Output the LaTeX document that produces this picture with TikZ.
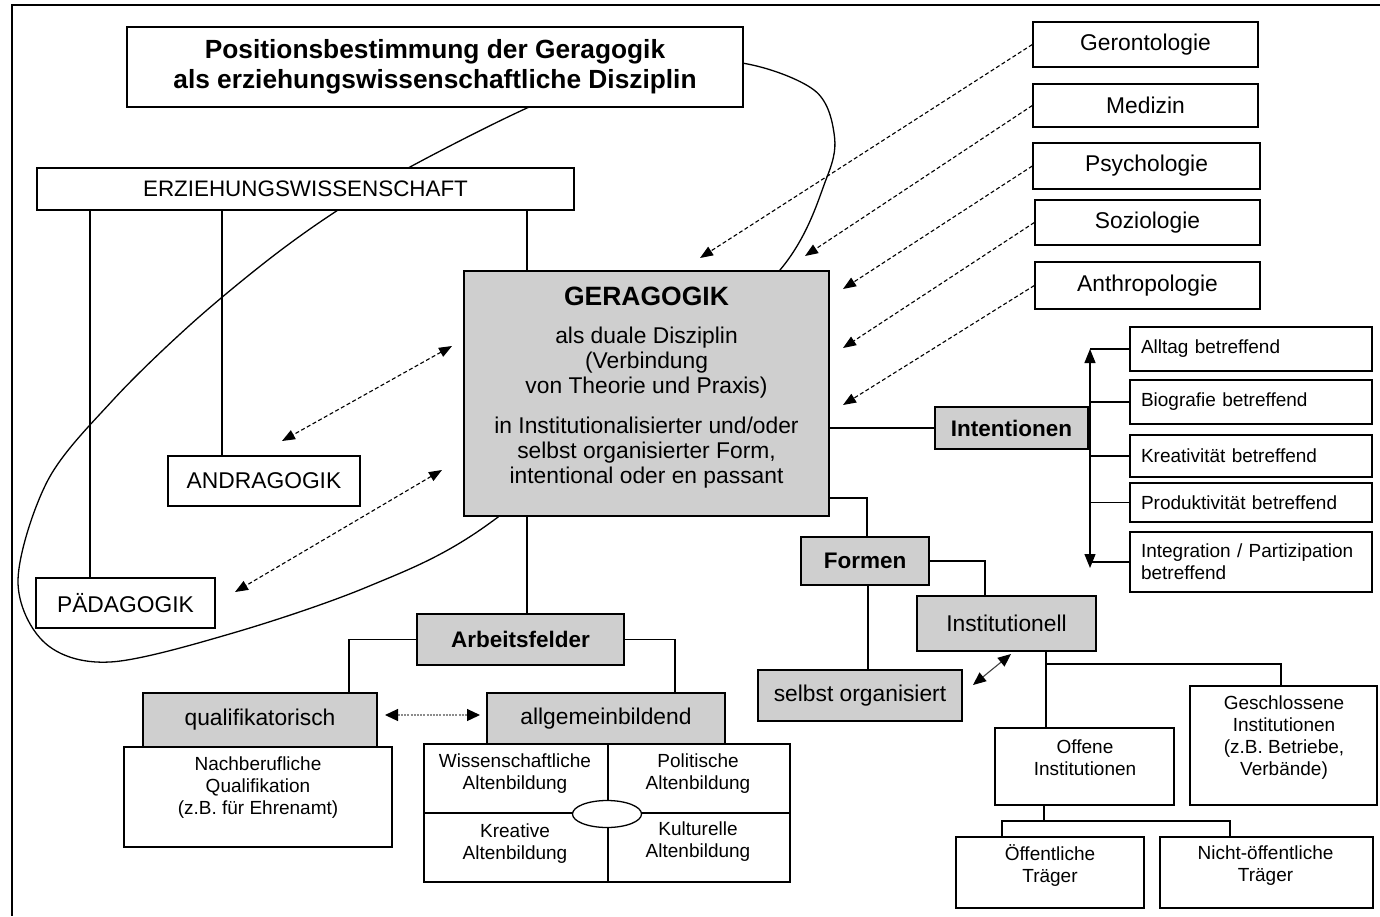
\documentclass[tikz,border=0pt]{standalone}
\usepackage{fontspec}
\setmainfont{Liberation Sans}
\usetikzlibrary{arrows.meta,shapes.geometric}
\definecolor{boxgray}{RGB}{207,207,207}
\begin{document}
\begin{tikzpicture}[x=1pt,y=-1pt,
  box/.style={draw, line width=1.4pt, fill=white, inner sep=0pt, align=center, font=\fontsize{22.8}{25}\selectfont},
  gbox/.style={box, fill=boxgray},
  bbox/.style={gbox, font=\bfseries\fontsize{22.5}{25}\selectfont},
  lbox/.style={box, align=left, text width=220pt, inner xsep=11pt, font=\fontsize{19}{22}\selectfont},
  txt/.style={inner sep=0pt, align=center, font=\fontsize{19}{22}\selectfont},
  txtm/.style={inner sep=0pt, align=center, font=\fontsize{22.8}{25}\selectfont},
  ln/.style={line width=1.3pt},
  dsh/.style={line width=1.1pt, dash pattern=on 4pt off 2.5pt, -{Triangle[length=13pt,width=10pt]}},
  ddsh/.style={line width=1.1pt, dash pattern=on 4pt off 2.5pt, {Triangle[length=13pt,width=10pt]}-{Triangle[length=13pt,width=10pt]}}
]
\useasboundingbox (0,0) rectangle (1380,916);
% frame
\draw[line width=1.8pt] (1380,5) -- (12,5) -- (12,916);
% loop
\draw[ln] plot[smooth cycle, tension=0.55] coordinates {(527,108) (410,167) (335,212) (268,260) (190,325) (113,400) (48,480) (18,580) (45,643) (110,662) (233,633) (367,587) (480,530) (640,400) (780,270) (827,177) (834,133) (814,90) (742,63) (640,62)};

% left / top boxes
\node[box, minimum width=616, minimum height=80, font=\bfseries\fontsize{26.3}{30}\selectfont] (title) at (435,67) {Positionsbestimmung der Geragogik\\als erziehungswissenschaftliche Disziplin};
\node[box, minimum width=537, minimum height=42, font=\fontsize{22.4}{25}\selectfont] (erz) at (305.5,189) {ERZIEHUNGSWISSENSCHAFT};
\node[box, minimum width=192, minimum height=50] (andra) at (264,481) {ANDRAGOGIK};
\node[box, minimum width=179, minimum height=50] (paed) at (125.5,603) {PÄDAGOGIK};
\node[gbox, minimum width=365, minimum height=245] (ger) at (646.5,393.5) {};
\node[inner sep=0pt, font=\bfseries\fontsize{26.5}{28}\selectfont] (gerT1) at (646.5,296) {GERAGOGIK};
\node[txtm] (gerT2) at (646.5,363) {als duale Disziplin\\(Verbindung\\von Theorie und Praxis)};
\node[txtm] (gerT3) at (646.5,453) {in Institutionalisierter und/oder\\selbst organisierter Form,\\intentional oder en passant};

% neighbouring disciplines
\node[box, minimum width=225, minimum height=45] (geron) at (1145.5,44.5) {Gerontologie};
\node[box, minimum width=225, minimum height=43] (med) at (1145.5,105.5) {Medizin};
\node[box, minimum width=227, minimum height=46] (psy) at (1146.5,166) {Psychologie};
\node[box, minimum width=225, minimum height=45] (soz) at (1147.5,222.5) {Soziologie};
\node[box, minimum width=225, minimum height=47] (anth) at (1147.5,285.5) {Anthropologie};
\coordinate (tgeron) at (700,258);
\coordinate (tmed) at (805,256);
\coordinate (tpsy) at (843,289);
\coordinate (tsoz) at (843,348);
\coordinate (tanth) at (843,405);
\draw[dsh] (geron.west) -- (tgeron);
\draw[dsh] (med.west) -- (tmed);
\draw[dsh] (psy.west) -- (tpsy);
\draw[dsh] (soz.west) -- (tsoz);
\draw[dsh] (anth.west) -- (tanth);

% tree lines from Erziehungswissenschaft
\coordinate (xp) at (90,0);
\coordinate (xa) at (222,0);
\coordinate (xg) at (527,0);
\draw[ln] (erz.south -| xp) -- (paed.north -| xp);
\draw[ln] (erz.south -| xa) -- (andra.north -| xa);
\draw[ln] (erz.south -| xg) -- (ger.north -| xg);

% double arrows to Andragogik / Paedagogik
\coordinate (ga1) at (452,346);
\coordinate (ga2) at (282,441);
\coordinate (gp1) at (442,470);
\coordinate (gp2) at (235,592);
\draw[ddsh] (ga1) -- (ga2);
\draw[ddsh] (gp1) -- (gp2);

% Intentionen
\node[bbox, minimum width=153, minimum height=42] (int) at (1011.5,428) {Intentionen};
\draw[ln] (int.west) -- (int.west -| ger.east);
\node[lbox, minimum height=44] (alltag) at (1251,349) {Alltag betreffend};
\node[lbox, minimum height=44] (bio) at (1251,402) {Biografie betreffend};
\node[lbox, minimum height=42] (krea) at (1251,456) {Kreativität betreffend};
\node[lbox, minimum height=39] (prod) at (1251,502.5) {Produktivität betreffend};
\node[lbox, minimum height=60] (integ) at (1251,562) {Integration / Partizipation\\betreffend};
\coordinate (vtop) at (1090,349);
\coordinate (vbot) at (1090,568);
\draw[ln, {Triangle[length=14pt,width=11pt]}-{Triangle[length=14pt,width=11pt]}] (vtop) -- (vbot);
\draw[ln] (alltag.west) -- (alltag.west -| vtop);
\draw[ln] (bio.west) -- (bio.west -| vtop);
\draw[ln] (krea.west) -- (krea.west -| vtop);
\draw[ln] (prod.west) -- (prod.west -| vtop);
\draw[ln] (integ.west) -- (integ.west -| vtop);

% Formen
\node[bbox, minimum width=128, minimum height=48] (formen) at (865,561) {Formen};
\coordinate (cf) at (867,498);
\draw[ln] (ger.east |- cf) -| (formen.north -| cf);
\node[gbox, minimum width=179, minimum height=55] (inst) at (1006.5,623.5) {Institutionell};
\node[gbox, minimum width=204, minimum height=51] (selbst) at (860,695.5) {selbst organisiert};
\coordinate (xi) at (985,0);
\coordinate (xs) at (868,0);
\draw[ln] (formen.east) -| (inst.north -| xi);
\draw[ln] (formen.south -| xs) -- (selbst.north -| xs);
\coordinate (is1) at (1011,654);
\coordinate (is2) at (973,685);
\draw[line width=1.1pt, black!75, {Triangle[length=13pt,width=11pt,color=black]}-{Triangle[length=13pt,width=11pt,color=black]}] (is1) -- (is2);

\node[box, minimum width=179, minimum height=77] (offen) at (1084.5,766.5) {};
\node[txt] (offenT) at (1085,758) {Offene\\Institutionen};
\node[box, minimum width=187, minimum height=119] (gesch) at (1283.5,745.5) {};
\node[txt] (geschT) at (1284,737.5) {Geschlossene\\Institutionen\\(z.B. Betriebe,\\Verbände)};
\coordinate (xo) at (1046,0);
\coordinate (yb) at (0,664);
\coordinate (xgs) at (1281,0);
\draw[ln] (inst.south -| xo) -- (offen.north -| xo);
\draw[ln] (xo |- yb) -| (gesch.north -| xgs);

\node[box, minimum width=188, minimum height=71] (oeff) at (1050,872.5) {};
\node[txt] (oeffT) at (1050,866) {Öffentliche\\Träger};
\node[box, minimum width=213, minimum height=71] (noeff) at (1266.5,872.5) {};
\node[txt] (noeffT) at (1265.5,866) {Nicht-öffentliche\\Träger};
\coordinate (xo2) at (1044,0);
\coordinate (yt) at (0,821);
\coordinate (xl) at (1002,0);
\coordinate (xr) at (1230,0);
\draw[ln] (offen.south -| xo2) -- (xo2 |- yt);
\draw[ln] (oeff.north -| xl) -- (xl |- yt) -- (xr |- yt) -- (noeff.north -| xr);

% Arbeitsfelder
\node[bbox, minimum width=207, minimum height=51] (arb) at (520.5,639.5) {Arbeitsfelder};
\draw[ln] (ger.south -| xg) -- (arb.north -| xg);
\node[gbox, minimum width=234, minimum height=54] (quali) at (260,720) {qualifikatorisch};
\node[gbox, minimum width=238, minimum height=51] (allg) at (606,718.5) {allgemeinbildend};
\coordinate (xq) at (349,0);
\coordinate (xal) at (675,0);
\draw[ln] (arb.west) -| (quali.north -| xq);
\draw[ln] (arb.east) -| (allg.north -| xal);
\coordinate (qa1) at (385,715);
\coordinate (qa2) at (480,715);
\draw[line width=1.2pt, black!45, dash pattern=on 2pt off 1.2pt, {Triangle[length=13pt,width=12pt,color=black]}-{Triangle[length=13pt,width=12pt,color=black]}] (qa1) -- (qa2);

\node[box, minimum width=268, minimum height=100] (nach) at (258,797) {};
\node[txt] (nachT) at (258,788) {Nachberufliche\\Qualifikation\\(z.B. für Ehrenamt)};

\node[box, minimum width=366, minimum height=138] (grid) at (607,813) {};
\coordinate (gx) at (608,0);
\draw[ln] (grid.north -| gx) -- (grid.south -| gx);
\draw[ln] (grid.west) -- (grid.east);
\node[draw, line width=1.3pt, fill=white, ellipse, minimum width=69, minimum height=27, inner sep=0pt] (oval) at (607,814) {};
\node[txt] (wissT) at (515,774) {Wissenschaftliche\\Altenbildung};
\node[txt] (polT) at (698,774) {Politische\\Altenbildung};
\node[txt] (kreaT) at (515,844) {Kreative\\Altenbildung};
\node[txt] (kultT) at (698,842) {Kulturelle\\Altenbildung};
\end{tikzpicture}
\end{document}
